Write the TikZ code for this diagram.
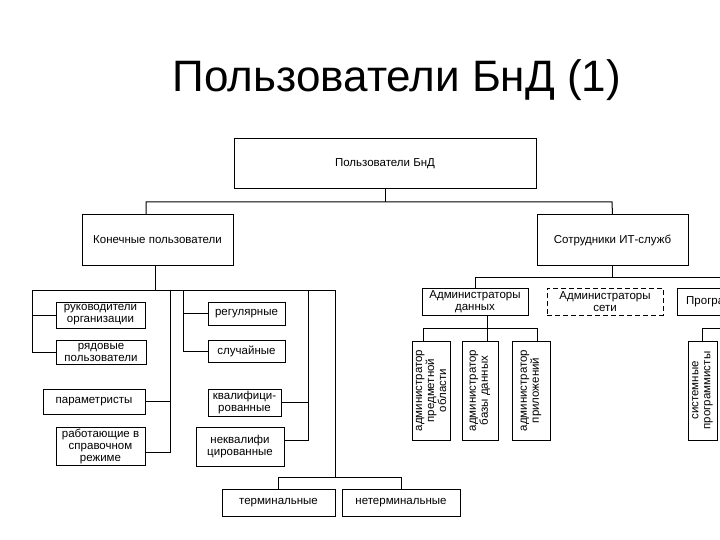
\documentclass[tikz,border=0pt]{standalone}
\usepackage{fontspec}
\setmainfont{Liberation Sans}
\usetikzlibrary{calc,positioning}
\tikzstyle{unit}=[draw,rectangle,align=center,inner sep=0pt,font=\fontsize{11.5}{12}\selectfont]
\tikzstyle{vunit}=[unit,rotate=90,minimum width=99]
\tikzstyle{dashunit}=[unit,dash pattern=on 5pt off 3pt]

\begin{document}
\begin{tikzpicture}[x=1pt,y=-1pt,line width=1pt]
\useasboundingbox (0,0) rectangle (720,540);
\clip (0,0) rectangle (720,540);
% title
\draw (397,92) node [anchor=base,font=\fontsize{44}{50}\selectfont] (title) {Пользователи БнД (1)};
% top levels
\draw (385,164) node [unit,minimum width=302,minimum height=50] (bnd) {Пользователи БнД};
\draw (157.5,240) node [unit,minimum width=151,minimum height=50] (end) {Конечные пользователи};
\draw (612.5,240) node [unit,minimum width=151,minimum height=50] (it) {Сотрудники ИТ-служб};
% end users
\draw (100.5,315) node [unit,minimum width=89,minimum height=26] (ruk) {руководители\\организации};
\draw (101,352) node [unit,minimum width=90,minimum height=24] (ryad) {рядовые\\пользователи};
\draw (94,401.5) node [unit,minimum width=102,minimum height=25] (param) {параметристы};
\draw (100.5,446) node [unit,minimum width=89,minimum height=38] (rab) {работающие в\\справочном\\режиме};
\draw (246.5,313.5) node [unit,minimum width=77,minimum height=23] (reg) {регулярные};
\draw (246.5,351) node [unit,minimum width=77,minimum height=22] (sluch) {случайные};
\draw (244.5,402.5) node [unit,minimum width=73,minimum height=27] (kval) {квалифици-\\рованные};
\draw (240,446.5) node [unit,minimum width=88,minimum height=39] (nekval) {неквалифи\\цированные};
\draw (278.5,502.5) node [unit,minimum width=113,minimum height=27] (term) {терминальные};
\draw (401,502.5) node [unit,minimum width=118,minimum height=27] (nterm) {нетерминальные};
% it staff
\draw (475,301.5) node [unit,minimum width=106,minimum height=27] (admd) {Администраторы\\данных};
\draw (605,301.5) node [dashunit,minimum width=116,minimum height=27] (adms) {Администраторы\\сети};
\draw (726,301.5) node [unit,minimum width=98,minimum height=27] (prog) {Программисты};
\draw (431,390.5) node [vunit,minimum height=38] (pro) {администратор\\предметной\\области};
\draw (480,390.5) node [vunit,minimum height=36] (bd) {администратор\\базы данных};
\draw (531,390.5) node [vunit,minimum height=38] (app) {администратор\\приложений};
\draw (702.5,390.5) node [vunit,minimum height=29] (sys) {системные\\программисты};
% bus points
\coordinate (t1) at (146,202);
\coordinate (t2) at (612,202);
\coordinate (e0) at (155,290);
\coordinate (e1) at (32,290);
\coordinate (e2) at (170,290);
\coordinate (e3) at (183,290);
\coordinate (e4) at (308,290);
\coordinate (e5) at (335,290);
\coordinate (e6) at (335,477);
\coordinate (s1) at (474,277);
\coordinate (d0) at (487,328);
\coordinate (d1) at (423,328);
\coordinate (d3) at (537,328);
\coordinate (p1) at (702,328);
\coordinate (p2) at (760,328);
% connectors
\draw (bnd.south) -- (bnd.south |- t1);
\draw (end.north -| t1) -- (t1) -- (t2) -- (it.north);
\draw (end.south -| e0) -- (e0);
\draw (e1) -- (e5);
\draw (e1) |- (ruk.west);
\draw (e1) |- (ryad.west);
\draw (e2) |- (param.east);
\draw (e2) |- ($(rab.east)+(0,6)$);
\draw (e3) |- (reg.west);
\draw (e3) |- (sluch.west);
\draw (e4) |- (kval.east);
\draw (e4) |- ($(nekval.east)+(0,-6)$);
\draw (e5) -- (e6);
\draw (term.north) -- (term.north |- e6) -- (nterm.north |- e6) -- (nterm.north);
\draw (it.south) -- (it.south |- s1);
\draw (admd.north) -- (admd.north |- s1) -- (prog.north |- s1) -- (prog.north);
\draw (admd.south -| d0) -- (d0);
\draw (d1) -- (d3);
\draw (d1) -- (d1 |- pro.east);
\draw (d0) -- (d0 |- bd.east);
\draw (d3) -- (d3 |- app.east);
\draw (prog.south) -- (prog.south |- p1);
\draw (p1) -- (p2);
\draw (p1) -- (p1 |- sys.east);
\end{tikzpicture}
\end{document}
